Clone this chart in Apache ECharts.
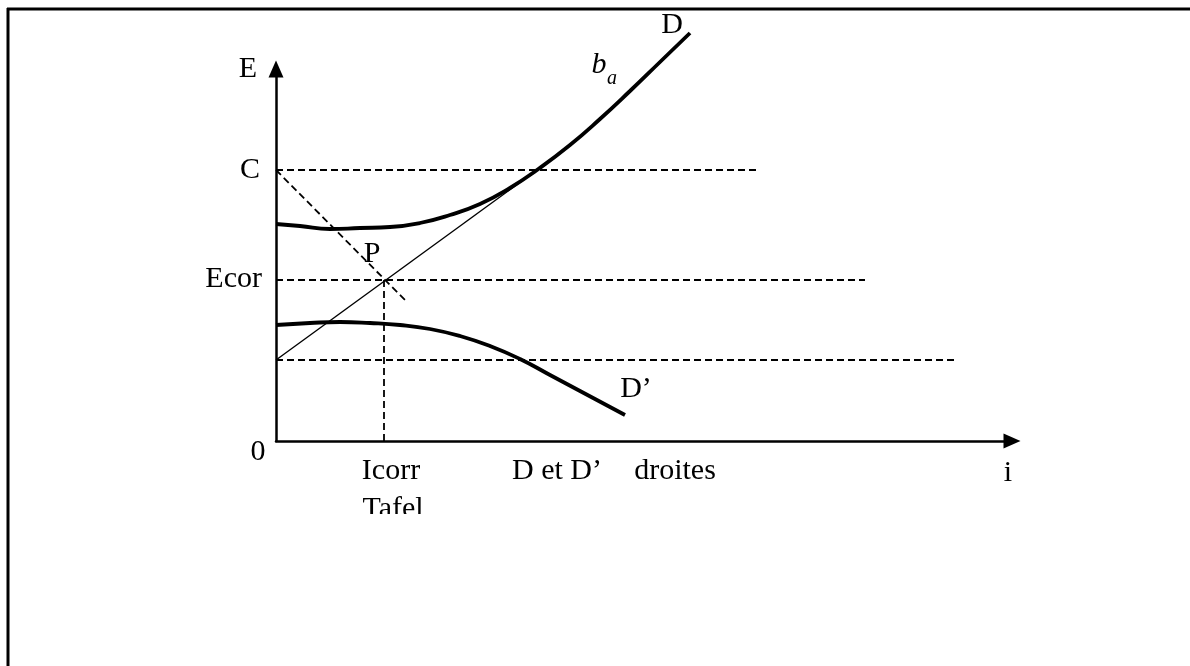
<!DOCTYPE html>
<html><head><meta charset="utf-8">
<script src="https://cdn.jsdelivr.net/npm/echarts/dist/echarts.min.js"></script>
<style>html,body{margin:0;padding:0;background:#fff}#c{width:1190px;height:666px}</style>
</head><body><div id="c"></div>
<script>
// Schematic units: i (current, x) and E (potential, y)
const curveD_i  = [0, 24, 54, 84, 114, 144, 174, 204, 234, 261, 294, 324, 354, 384, 414];
const curveD_E  = [217, 215, 212, 213, 214, 218, 226, 237, 253, 271, 296, 322, 350, 379, 408];
const curveDp_i = [0, 34, 64, 94, 124, 154, 184, 214, 244, 274, 304, 334, 349];
const curveDp_E = [116, 118, 119, 118, 116, 112, 105, 95, 82, 66, 50, 34, 26];
const tafel_i = [0, 261];
const tafel_E = [81, 271];
const levelC = 271, levelEcor = 161, levelLow = 81;
const iCorr = 108;
const endC = 481, endEcor = 589, endLow = 679;
const diag_i = [0, 131];
const diag_E = [271, 139];
const axisMaxI = 736, axisMaxE = 372;

const zip = (a, b) => a.map((v, k) => [v, b[k]]);
const dash = [7, 4];
const FONT = '30px "Liberation Serif", "Times New Roman", serif';

const chart = echarts.init(document.getElementById('c'));
const txt = (text, x, y, extra) => ({type: 'text', x, y, z: 10,
  style: Object.assign({text, font: FONT, fill: '#000', align: 'center', verticalAlign: 'middle'}, extra || {})});

chart.setOption({
  animation: false,
  grid: {left: 276, right: 1190 - 1012, top: 69, bottom: 225, containLabel: false},
  xAxis: {type: 'value', min: 0, max: axisMaxI,
    axisLine: {show: true, onZero: false, symbol: ['none', 'triangle'], symbolSize: [15, 17], lineStyle: {color: '#000', width: 2.5}},
    axisTick: {show: false}, axisLabel: {show: false}, splitLine: {show: false}},
  yAxis: {type: 'value', min: 0, max: axisMaxE,
    axisLine: {show: true, onZero: false, symbol: ['none', 'triangle'], symbolSize: [15, 17], lineStyle: {color: '#000', width: 2.5}},
    axisTick: {show: false}, axisLabel: {show: false}, splitLine: {show: false}},
  series: [
    {type: 'line', data: zip(curveD_i, curveD_E), smooth: 0.5, symbol: 'none', clip: false,
     lineStyle: {color: '#000', width: 3.8}},
    {type: 'line', data: zip(curveDp_i, curveDp_E), smooth: 0.5, symbol: 'none', clip: false,
     lineStyle: {color: '#000', width: 3.8}},
    {type: 'line', data: zip(tafel_i, tafel_E), symbol: 'none', lineStyle: {color: '#000', width: 1.4}},
    {type: 'line', data: [[0, levelC], [endC, levelC]], symbol: 'none', lineStyle: {color: '#000', width: 1.8, type: dash}},
    {type: 'line', data: [[0, levelEcor], [endEcor, levelEcor]], symbol: 'none', lineStyle: {color: '#000', width: 1.8, type: dash}},
    {type: 'line', data: [[0, levelLow], [endLow, levelLow]], symbol: 'none', lineStyle: {color: '#000', width: 1.8, type: dash}},
    {type: 'line', data: [[iCorr, 0], [iCorr, levelEcor]], symbol: 'none', lineStyle: {color: '#000', width: 1.8, type: dash}},
    {type: 'line', data: zip(diag_i, diag_E), symbol: 'none', lineStyle: {color: '#000', width: 1.8, type: dash}}
  ],
  graphic: [
    {type: 'line', shape: {x1: 7, y1: 9, x2: 1190, y2: 9}, style: {stroke: '#000', lineWidth: 3}},
    {type: 'line', shape: {x1: 8, y1: 8, x2: 8, y2: 666}, style: {stroke: '#000', lineWidth: 3}},
    txt('E', 248, 69),
    txt('C', 250, 170),
    txt('Ecor', 262, 279, {align: 'right'}),
    txt('0', 258, 452),
    txt('P', 372, 254),
    txt('Icorr', 391, 471),
    txt('Tafel', 393, 509),
    {type: 'rect', z: 20, shape: {x: 350, y: 514, width: 100, height: 20}, style: {fill: '#fff'}},
    txt('D et D\u2019', 557, 471),
    txt('droites', 675, 471),
    txt('i', 1008, 473),
    txt('D', 672, 25),
    txt('b', 599, 65, {font: 'italic 30px "Liberation Serif", serif'}),
    txt('a', 612, 79, {font: 'italic 20px "Liberation Serif", serif'}),
    txt('D\u2019', 636, 389)
  ]
});
</script>
</body></html>
